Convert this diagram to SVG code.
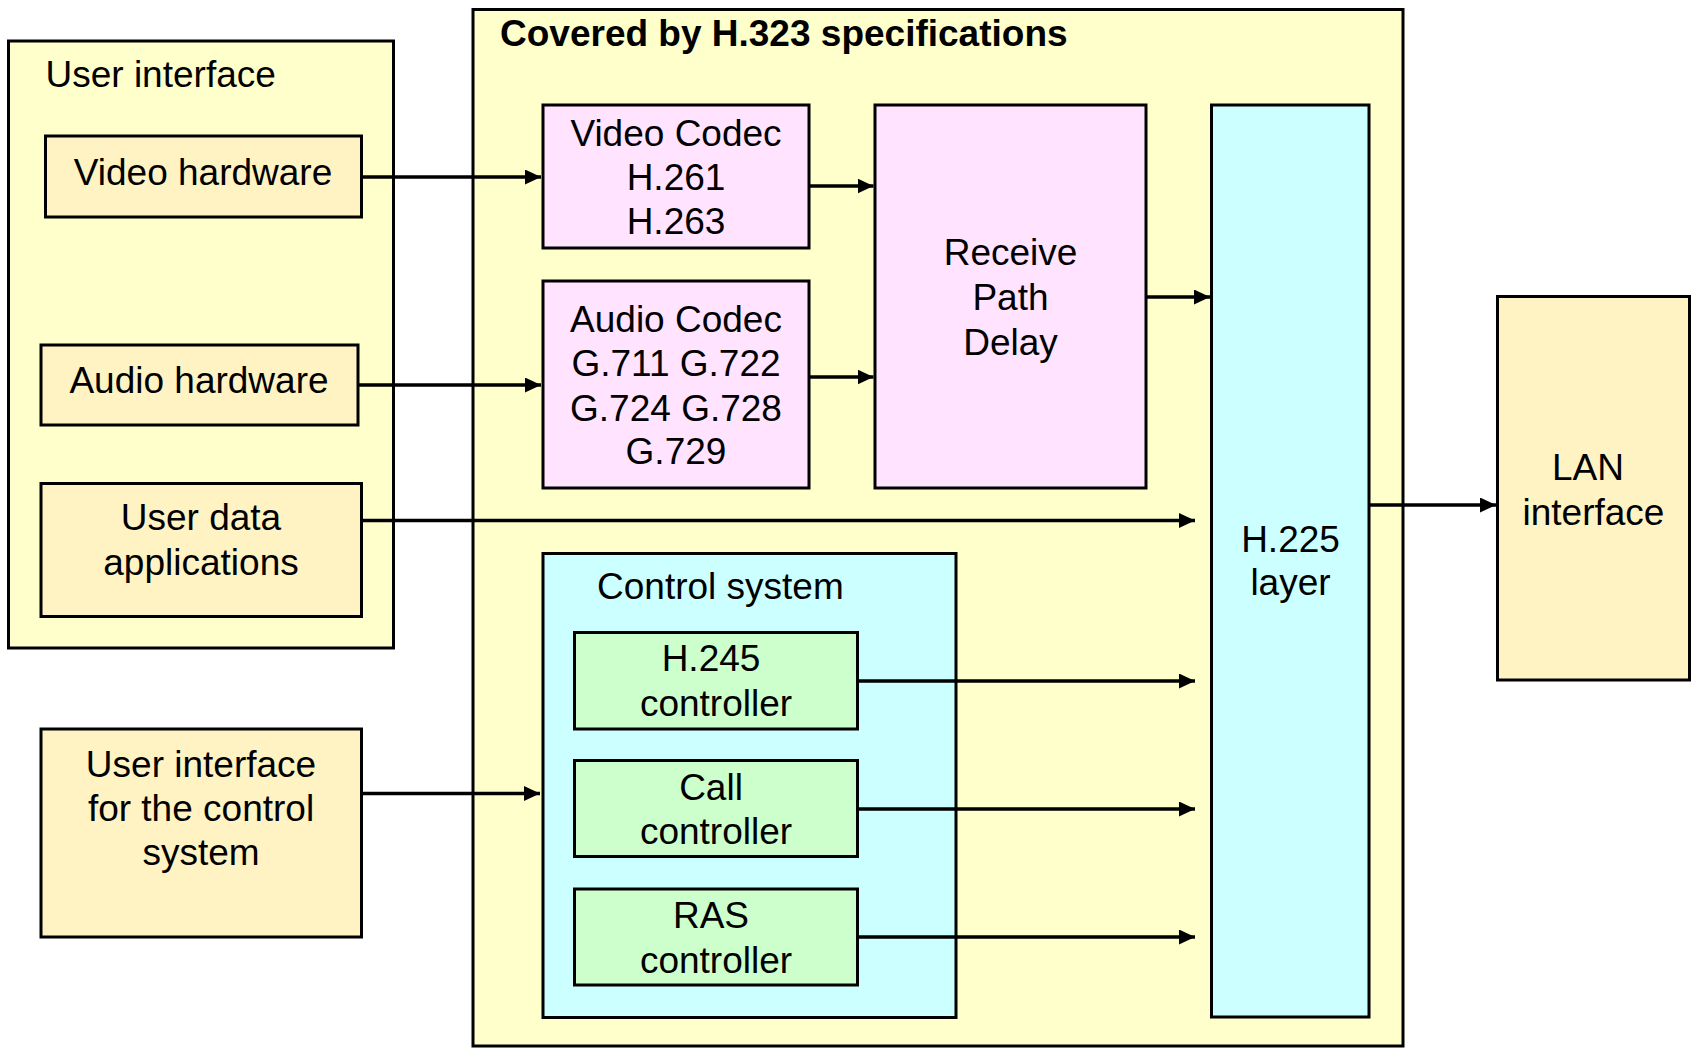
<svg xmlns="http://www.w3.org/2000/svg" width="1695" height="1048" viewBox="0 0 1695 1048">
  <defs>
    <style>
      .box { stroke: #000; stroke-width: 3; }
      .outer { fill: #FFFFCC; }
      .tan { fill: #FFF3C3; }
      .pink { fill: #FFE3FF; }
      .cyan { fill: #CCFFFF; }
      .green { fill: #CCFFCC; }
      text { font-family: "Liberation Sans", Arial, sans-serif; font-size: 37px; fill: #000; }
      .c { text-anchor: middle; }
      .title { font-weight: bold; font-size: 37px; }
      .wire { stroke: #000; stroke-width: 3.5; fill: none; marker-end: url(#arrow); }
    </style>
    <marker id="arrow" markerUnits="userSpaceOnUse" markerWidth="16" markerHeight="15" refX="16" refY="7.5" orient="auto">
      <path d="M0,0 L16,7.5 L0,15 Z" fill="#000"/>
    </marker>
  </defs>
  <rect width="1695" height="1048" fill="#fff"/>

  <!-- User interface container -->
  <g id="user-interface">
    <rect class="box outer" x="8.5" y="41" width="385" height="607"/>
    <text x="45.5" y="87">User interface</text>
  </g>
  <g id="video-hardware">
    <rect class="box tan" x="45.5" y="136" width="316" height="81"/>
    <text class="c" x="203" y="185">Video hardware</text>
  </g>
  <g id="audio-hardware">
    <rect class="box tan" x="41" y="345" width="317" height="80"/>
    <text class="c" x="199" y="393">Audio hardware</text>
  </g>
  <g id="user-data">
    <rect class="box tan" x="41" y="483.5" width="320.5" height="133"/>
    <text class="c" x="201" y="530">User data</text>
    <text class="c" x="201" y="575">applications</text>
  </g>
  <g id="ui-control">
    <rect class="box tan" x="41" y="729" width="320.5" height="208"/>
    <text class="c" x="201" y="777">User interface</text>
    <text class="c" x="201" y="821">for the control</text>
    <text class="c" x="201" y="865">system</text>
  </g>

  <!-- H.323 scope -->
  <g id="h323">
    <rect class="box outer" x="473" y="9.5" width="930" height="1036.5"/>
    <text class="title" x="500" y="46">Covered by H.323 specifications</text>
  </g>
  <g id="video-codec">
    <rect class="box pink" x="543" y="105" width="266" height="143"/>
    <text class="c" x="676" y="146">Video Codec</text>
    <text class="c" x="676" y="190">H.261</text>
    <text class="c" x="676" y="234">H.263</text>
  </g>
  <g id="audio-codec">
    <rect class="box pink" x="543" y="281" width="266" height="207"/>
    <text class="c" x="676" y="332">Audio Codec</text>
    <text class="c" x="676" y="376">G.711 G.722</text>
    <text class="c" x="676" y="420.5">G.724 G.728</text>
    <text class="c" x="676" y="464">G.729</text>
  </g>
  <g id="receive-path-delay">
    <rect class="box pink" x="875" y="105" width="271" height="383"/>
    <text class="c" x="1010.5" y="265">Receive</text>
    <text class="c" x="1010.5" y="310">Path</text>
    <text class="c" x="1010.5" y="355">Delay</text>
  </g>
  <g id="control-system">
    <rect class="box cyan" x="543" y="553.5" width="413" height="464"/>
    <text x="597" y="599">Control system</text>
  </g>
  <g id="h245-controller">
    <rect class="box green" x="574.5" y="632.5" width="283" height="96.5"/>
    <text class="c" x="711" y="671">H.245</text>
    <text class="c" x="716" y="716">controller</text>
  </g>
  <g id="call-controller">
    <rect class="box green" x="574.5" y="760.5" width="283" height="96"/>
    <text class="c" x="711" y="799.5">Call</text>
    <text class="c" x="716" y="844">controller</text>
  </g>
  <g id="ras-controller">
    <rect class="box green" x="574.5" y="889" width="283" height="96"/>
    <text class="c" x="711" y="928">RAS</text>
    <text class="c" x="716" y="972.5">controller</text>
  </g>
  <g id="h225-layer">
    <rect class="box cyan" x="1211.5" y="105" width="157.5" height="912"/>
    <text class="c" x="1290.5" y="552">H.225</text>
    <text class="c" x="1290.5" y="595">layer</text>
  </g>

  <!-- Network side -->
  <g id="lan-interface">
    <rect class="box tan" x="1497.5" y="296.5" width="192" height="383.5"/>
    <text class="c" x="1588" y="480">LAN</text>
    <text class="c" x="1593.5" y="525">interface</text>
  </g>

  <!-- Connectors -->
  <g id="connectors">
    <line class="wire" x1="361.5" y1="177" x2="541" y2="177"/>
    <line class="wire" x1="358" y1="385" x2="541" y2="385"/>
    <line class="wire" x1="361.5" y1="520.5" x2="1195" y2="520.5"/>
    <line class="wire" x1="361.5" y1="793.5" x2="540" y2="793.5"/>
    <line class="wire" x1="809" y1="186" x2="873.5" y2="186"/>
    <line class="wire" x1="809" y1="377" x2="873.5" y2="377"/>
    <line class="wire" x1="1146" y1="297" x2="1210" y2="297"/>
    <line class="wire" x1="857.5" y1="681" x2="1195" y2="681"/>
    <line class="wire" x1="857.5" y1="809" x2="1195" y2="809"/>
    <line class="wire" x1="857.5" y1="937" x2="1195" y2="937"/>
    <line class="wire" x1="1369" y1="505" x2="1496" y2="505"/>
  </g>
</svg>
